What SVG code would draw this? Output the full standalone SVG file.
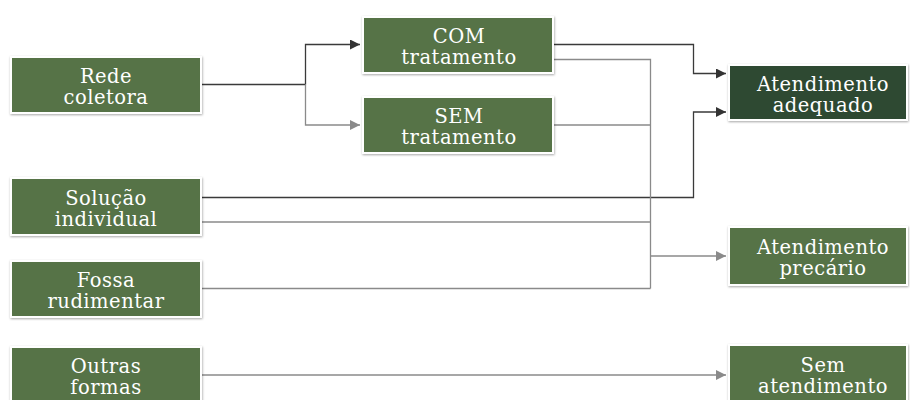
<svg xmlns="http://www.w3.org/2000/svg" width="910" height="400" viewBox="0 0 910 400">
<defs>
<filter id="sh" x="-10%" y="-20%" width="120%" height="140%">
<feDropShadow dx="0.5" dy="1" stdDeviation="1" flood-color="#000" flood-opacity="0.35"/>
</filter>
<marker id="ad" viewBox="0 0 10 10" refX="10" refY="5" markerWidth="10" markerHeight="10" markerUnits="userSpaceOnUse" orient="auto">
<path d="M0,0 L10,5 L0,10 z" fill="#333"/>
</marker>
<marker id="ag" viewBox="0 0 10 10" refX="10" refY="5" markerWidth="10" markerHeight="10" markerUnits="userSpaceOnUse" orient="auto">
<path d="M0,0 L10,5 L0,10 z" fill="#8a8a8a"/>
</marker>
</defs>
<style>
.b{fill:#577347;stroke:#fff;stroke-width:2;filter:url(#sh)}
.d{fill:#2f4a32;stroke:#fff;stroke-width:2;filter:url(#sh)}
.t{font-family:"DejaVu Serif",serif;font-size:19.5px;letter-spacing:0.5px;fill:#fff;text-anchor:middle}
.cd{fill:none;stroke:#3a3a3a;stroke-width:1.3}
.cg{fill:none;stroke:#8a8a8a;stroke-width:1.3}
</style>
<rect width="910" height="400" fill="#fff"/>
<g id="connectors">
<path class="cd" d="M202,84.5 H305.5"/>
<path class="cd" d="M305.5,84.5 V44.5 H360" marker-end="url(#ad)"/>
<path class="cg" d="M305.5,84.5 V125 H360" marker-end="url(#ag)"/>
<path class="cd" d="M554,44.5 H693.5 V73.5 H726" marker-end="url(#ad)"/>
<path class="cd" d="M202,197.5 H693.5 V112 H726" marker-end="url(#ad)"/>
<path class="cg" d="M554,59.5 H650.5 V288.5"/>
<path class="cg" d="M554,125 H650.5"/>
<path class="cg" d="M202,222 H650.5"/>
<path class="cg" d="M202,288.5 H650.5"/>
<path class="cg" d="M650.5,256 H726" marker-end="url(#ag)"/>
<path class="cg" d="M202,375 H726" marker-end="url(#ag)"/>
</g>
<g id="rede"><rect class="b" x="11" y="57" width="190" height="56"/><text class="t" x="106" y="83">Rede</text><text class="t" x="106" y="104">coletora</text></g>
<g id="com"><rect class="b" x="363" y="17" width="190" height="56"/><text class="t" x="459" y="42.5">COM</text><text class="t" x="459" y="63.5">tratamento</text></g>
<g id="sem"><rect class="b" x="363" y="97" width="190" height="56"/><text class="t" x="459" y="123">SEM</text><text class="t" x="459" y="144">tratamento</text></g>
<g id="adequado"><rect class="d" x="729" y="65" width="178" height="55"/><text class="t" x="823" y="90.5">Atendimento</text><text class="t" x="823" y="111.5">adequado</text></g>
<g id="solucao"><rect class="b" x="11" y="178" width="190" height="57"/><text class="t" x="106" y="204.5">Solução</text><text class="t" x="106" y="225.5">individual</text></g>
<g id="fossa"><rect class="b" x="11" y="261" width="190" height="56"/><text class="t" x="106" y="287">Fossa</text><text class="t" x="106" y="308">rudimentar</text></g>
<g id="precario"><rect class="b" x="729" y="227" width="178" height="58"/><text class="t" x="823" y="254">Atendimento</text><text class="t" x="823" y="275">precário</text></g>
<g id="outras"><rect class="b" x="11" y="347" width="190" height="60"/><text class="t" x="106" y="373">Outras</text><text class="t" x="106" y="394">formas</text></g>
<g id="semat"><rect class="b" x="729" y="345" width="178" height="62"/><text class="t" x="823" y="371.5">Sem</text><text class="t" x="823" y="392.5">atendimento</text></g>
</svg>
